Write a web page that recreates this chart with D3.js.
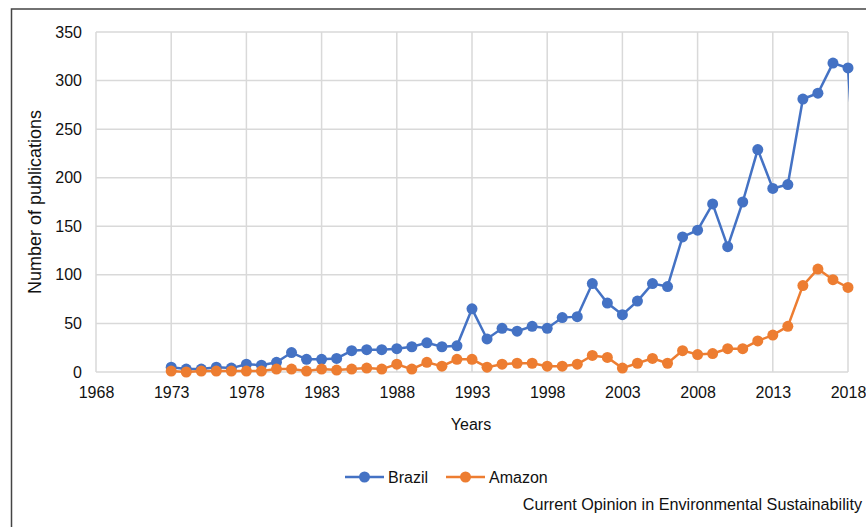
<!DOCTYPE html>
<html>
<head>
<meta charset="utf-8">
<script src="https://cdn.jsdelivr.net/npm/d3@7"></script>
<style>
  body { margin: 0; background: #fff; }
  text { font-family: "Liberation Sans", Arial, sans-serif; fill: #111; }
</style>
</head>
<body>
<div id="chart"></div>
<script>
const years = d3.range(1973, 2020)
// 2019 only partly shown, runs off the plot edge
const brazil = [5, 3, 3, 5, 4, 8, 7, 10, 20, 13, 13, 14, 22, 23, 23, 24, 26, 30, 26, 27,
    65, 34, 45, 42, 47, 45, 56, 57, 91, 71, 59, 73, 91, 88, 139, 146, 173, 129, 175,
    229, 189, 193, 281, 287, 318, 313, 75]
const amazon = [1, 0, 1, 1, 1, 1, 1, 3, 3, 1, 3, 2, 3, 4, 3, 8, 3, 10, 6, 13,
    13, 5, 8, 9, 9, 6, 6, 8, 17, 15, 4, 9, 14, 9, 22, 18, 19, 24, 24,
    32, 38, 47, 89, 106, 95, 87]
const xTicks = [1968, 1973, 1978, 1983, 1988, 1993, 1998, 2003, 2008, 2013, 2018]
const yTicks = [0, 50, 100, 150, 200, 250, 300, 350]
const series = [
    { name: 'Brazil', values: brazil, color: '#4472C4' },
    { name: 'Amazon', values: amazon, color: '#ED7D31' }
]

const width = 866, height = 527
const plotLeft = 96, plotRight = 848, plotTop = 32, plotBottom = 372

const svg = d3.select('#chart').append('svg')
    .attr('width', width).attr('height', height)

// outer frame
svg.append('rect')
    .attr('x', 11.5).attr('y', 9)
    .attr('width', width + 10).attr('height', height + 10)
    .attr('fill', 'none').attr('stroke', '#444').attr('stroke-width', 1.5)

const x = d3.scaleLinear().domain([1968, 2018]).range([plotLeft, plotRight])
const y = d3.scaleLinear().domain([0, 350]).range([plotBottom, plotTop])

// grid
svg.append('g').selectAll('line')
    .data(yTicks).enter().append('line')
    .attr('x1', plotLeft).attr('x2', plotRight)
    .attr('y1', d => y(d)).attr('y2', d => y(d))
    .attr('stroke', '#d9d9d9').attr('stroke-width', 1.5)
svg.append('g').selectAll('line')
    .data(xTicks).enter().append('line')
    .attr('x1', d => x(d)).attr('x2', d => x(d))
    .attr('y1', plotTop).attr('y2', plotBottom)
    .attr('stroke', '#d9d9d9').attr('stroke-width', 1.5)

// axes, labels only
const yAxis = svg.append('g')
    .attr('transform', `translate(${plotLeft},0)`)
    .call(d3.axisLeft(y).tickValues(yTicks).tickSize(0).tickPadding(14))
const xAxis = svg.append('g')
    .attr('transform', `translate(0,${plotBottom})`)
    .call(d3.axisBottom(x).tickValues(xTicks).tickFormat(d3.format('d')).tickSize(0).tickPadding(15))
;[yAxis, xAxis].forEach(a => {
    a.select('.domain').remove()
    a.selectAll('text').attr('font-size', 16)
        .attr('font-family', '"Liberation Sans", Arial, sans-serif').attr('fill', '#111')
})

svg.append('text')
    .attr('transform', `translate(41,${(plotTop + plotBottom) / 2}) rotate(-90)`)
    .attr('text-anchor', 'middle').attr('font-size', 18)
    .text('Number of publications')
svg.append('text')
    .attr('x', 471).attr('y', 430)
    .attr('text-anchor', 'middle').attr('font-size', 16)
    .text('Years')

// clip just past the 2018 edge so the 2019 tail shows only a sliver
svg.append('clipPath').attr('id', 'plot-clip')
    .append('rect').attr('x', 0).attr('y', 0).attr('width', plotRight + 1).attr('height', height)

const line = d3.line().x((d, i) => x(years[i])).y(d => y(d))

series.forEach(s => {
    const g = svg.append('g')
    g.append('path')
        .attr('d', line(s.values))
        .attr('fill', 'none').attr('stroke', s.color).attr('stroke-width', 2.5)
        .attr('clip-path', 'url(#plot-clip)')
    g.selectAll('circle')
        .data(s.values.filter((d, i) => years[i] <= 2018))
        .enter().append('circle')
        .attr('cx', (d, i) => x(years[i]))
        .attr('cy', d => y(d))
        .attr('r', 5.5)
        .attr('fill', s.color)
})

// legend
const legend = svg.append('g').attr('transform', 'translate(345,477)')
series.forEach((s, i) => {
    const g = legend.append('g').attr('transform', `translate(${i * 101},0)`)
    g.append('line').attr('x1', 0).attr('x2', 39).attr('y1', 0).attr('y2', 0)
        .attr('stroke', s.color).attr('stroke-width', 2.5)
    g.append('circle').attr('cx', 19.5).attr('cy', 0).attr('r', 5.5).attr('fill', s.color)
    g.append('text').attr('x', 43).attr('y', 5.5).attr('font-size', 16).text(s.name)
})

svg.append('text')
    .attr('x', 862).attr('y', 510)
    .attr('text-anchor', 'end').attr('font-size', 16.2)
    .text('Current Opinion in Environmental Sustainability')
</script>
</body>
</html>
